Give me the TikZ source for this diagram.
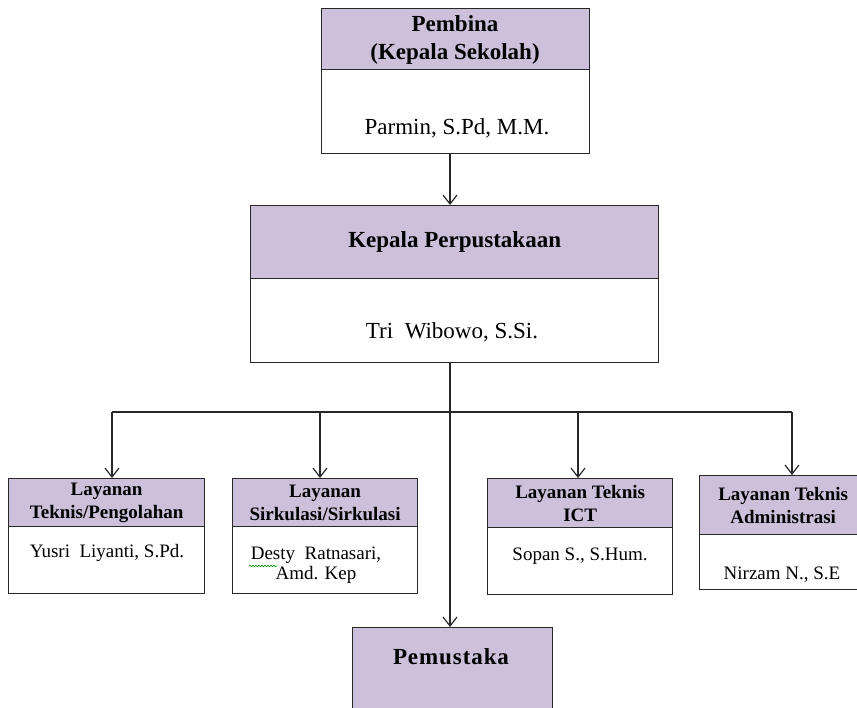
\documentclass[tikz,border=0pt]{standalone}
\usepackage{fontspec}
\setmainfont{Liberation Serif}
\usetikzlibrary{arrows.meta,decorations.pathmorphing}
\definecolor{hdr}{RGB}{204,192,218}
\definecolor{edge}{RGB}{40,40,40}
\begin{document}
\begin{tikzpicture}[x=1pt,y=-1pt,
  box/.style={draw=edge,line width=1.3pt,anchor=north west,inner sep=0pt},
  hdrbox/.style={box,fill=hdr,align=center},
  bigb/.style={font=\bfseries\fontsize{23}{28}\selectfont},
  smallb/.style={font=\bfseries\fontsize{19}{23}\selectfont},
  bigtxt/.style={font=\fontsize{23}{28}\selectfont,inner sep=0pt},
  smalltxt/.style={font=\fontsize{19}{20}\selectfont,inner sep=0pt,align=center},
  conn/.style={draw=edge,line width=1.2pt},
  arr/.style={conn,-{Straight Barb[length=9pt,width=14pt,line width=1.2pt]}}]
\useasboundingbox (0,0) rectangle (857,708);

% Pembina
\node[hdrbox,minimum width=268pt,minimum height=61pt] (pemH) at (321,8) {};
\node[bigb,align=center,inner sep=0pt] (pemHT) at (455,40) {Pembina\\(Kepala Sekolah)};
\node[box,minimum width=268pt,minimum height=84pt] (pemB) at (321,69) {};
\node[bigtxt] (pemT) at (457,128) {Parmin, S.Pd, M.M.};

% Kepala Perpustakaan
\node[hdrbox,bigb,minimum width=408pt,minimum height=73pt] (kepH) at (250,205) {Kepala Perpustakaan};
\node[box,minimum width=408pt,minimum height=84pt] (kepB) at (250,278) {};
\node[bigtxt] (kepT) at (452,332) {Tri\ \ Wibowo, S.Si.};

% Layanan boxes
\node[hdrbox,smallb,minimum width=196pt,minimum height=48pt] (l1H) at (8,478) {Layanan\\Teknis/Pengolahan};
\node[box,minimum width=196pt,minimum height=67pt] (l1B) at (8,526) {};
\node[smalltxt] (l1T) at (107,553) {Yusri\ \ Liyanti, S.Pd.};

\node[hdrbox,smallb,minimum width=185pt,minimum height=48pt] (l2H) at (232,478) {Layanan\\Sirkulasi/Sirkulasi};
\node[box,minimum width=185pt,minimum height=67pt] (l2B) at (232,526) {};
\node[smalltxt] (l2T) at (316,565) {Desty\ \ Ratnasari,\\Amd. Kep};
\draw[green!55!black,line width=0.6pt,decorate,decoration={snake,amplitude=0.8pt,segment length=3pt}] (249,566) -- (277,566);

\node[hdrbox,smallb,minimum width=185pt,minimum height=49pt] (l3H) at (487,478) {Layanan Teknis\\ICT};
\node[box,minimum width=185pt,minimum height=67pt] (l3B) at (487,527) {};
\node[smalltxt] (l3T) at (580,556) {Sopan S., S.Hum.};

\node[hdrbox,smallb,minimum width=167pt,minimum height=59pt] (l4H) at (699,475) {Layanan Teknis\\Administrasi};
\node[box,minimum width=167pt,minimum height=55pt] (l4B) at (699,534) {};
\node[smalltxt] (l4T) at (782,575) {Nirzam N., S.E};

% Pemustaka
\node[hdrbox,minimum width=200pt,minimum height=95pt] (pemu) at (352,627) {};
\node[bigb,inner sep=0pt] (pemuT) at (451,657) {\addfontfeature{LetterSpace=4}Pemustaka};

% connectors
\coordinate (tr) at (450,0);
\coordinate (c1) at (112,412);
\coordinate (c2) at (320,412);
\coordinate (c3) at (578,412);
\coordinate (c4) at (792,412);
\draw[arr] (pemB.south -| tr) -- (kepH.north -| tr);
\draw[arr] (kepB.south -| tr) -- (pemu.north -| tr);
\draw[conn] (c1) -- (c4);
\draw[arr] (c1) -- (l1H.north -| c1);
\draw[arr] (c2) -- (l2H.north -| c2);
\draw[arr] (c3) -- (l3H.north -| c3);
\draw[arr] (c4) -- (l4H.north -| c4);
\end{tikzpicture}
\end{document}
